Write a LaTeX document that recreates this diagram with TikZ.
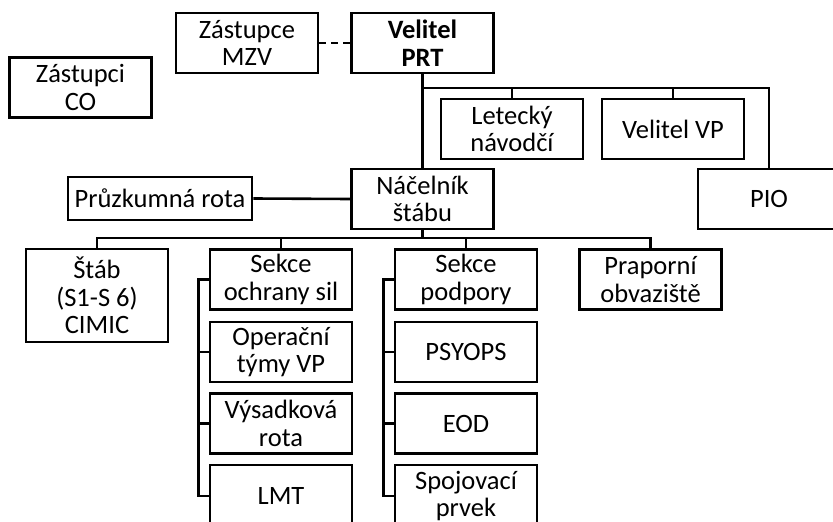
\documentclass[tikz,border=0pt]{standalone}
\usepackage{fontspec}
\setmainfont{Carlito}
\usepackage{tikz}
\usetikzlibrary{positioning}

\begin{document}
\begin{tikzpicture}[x=1pt, y=-1pt, line width=2.6pt,
    unit/.style={draw, align=center, inner sep=0pt, minimum width=142pt,
        minimum height=60pt, font=\fontsize{26.5}{27.5}\selectfont}]
\useasboundingbox (0, 0) rectangle (833, 522);
\clip (0, 0) rectangle (833, 522);

% top level
\node [unit] (mzv) at (247, 43) {Zástupce\\MZV};
\node [unit, font=\fontsize{26.5}{27.5}\selectfont\bfseries] (prt) at (422.5, 43) {Velitel\\PRT};
\node [unit] (co) at (80.5, 87.5) {Zástupci\\CO};
\node [unit] (let) at (512, 129) {Letecký\\návodčí};
\node [unit] (vvp) at (673, 129) {Velitel VP};
\node [unit] (nac) at (422.5, 199) {Náčelník\\štábu};
\node [unit, minimum width=184pt, minimum height=43pt] (pruz) at (160, 198.5) {Průzkumná rota};
\node [unit] (pio) at (769, 199) {PIO};

% second level
\node [unit, minimum height=93pt] (stab) at (97, 295.5) {Štáb\\(S1-S 6)\\CIMIC};
\node [unit] (och) at (281, 279.5) {Sekce\\ochrany sil};
\node [unit] (pod) at (466, 279.5) {Sekce\\podpory};
\node [unit] (prap) at (650.5, 279.5) {Praporní\\obvaziště};

\node [unit] (oper) at (281, 352) {Operační\\týmy VP};
\node [unit] (vys) at (281, 423.5) {Výsadková\\rota};
\node [unit, minimum height=62pt] (lmt) at (281, 496) {LMT};
\node [unit] (psy) at (466, 352) {PSYOPS};
\node [unit] (eod) at (466, 423.5) {EOD};
\node [unit, minimum height=62pt] (spoj) at (466, 496) {Spojovací\\prvek};

% connectors
\draw [dashed, dash pattern=on 7pt off 5pt] (mzv.east) -- (prt.west);
\draw (prt.south) -- (nac.north);
\coordinate (b1) at (prt.south |- 0, 88);
\draw (b1) -| (pio.north);
\draw (let.north) -- (let.north |- b1);
\draw (vvp.north) -- (vvp.north |- b1);
\draw (pruz.east) -- (nac.west);

\coordinate (b2) at (nac.south |- 0, 238);
\draw (nac.south) -- (b2);
\draw (stab.north) |- (b2) -| (prap.north);
\draw (och.north) -- (och.north |- b2);
\draw (pod.north) -- (pod.north |- b2);

\draw (och.west) -- ++(-10, 0) coordinate (t1) -- (t1 |- lmt.west) -- (lmt.west);
\draw (t1 |- oper.west) -- (oper.west);
\draw (t1 |- vys.west) -- (vys.west);
\draw (pod.west) -- ++(-10, 0) coordinate (t2) -- (t2 |- spoj.west) -- (spoj.west);
\draw (t2 |- psy.west) -- (psy.west);
\draw (t2 |- eod.west) -- (eod.west);
\end{tikzpicture}
\end{document}
